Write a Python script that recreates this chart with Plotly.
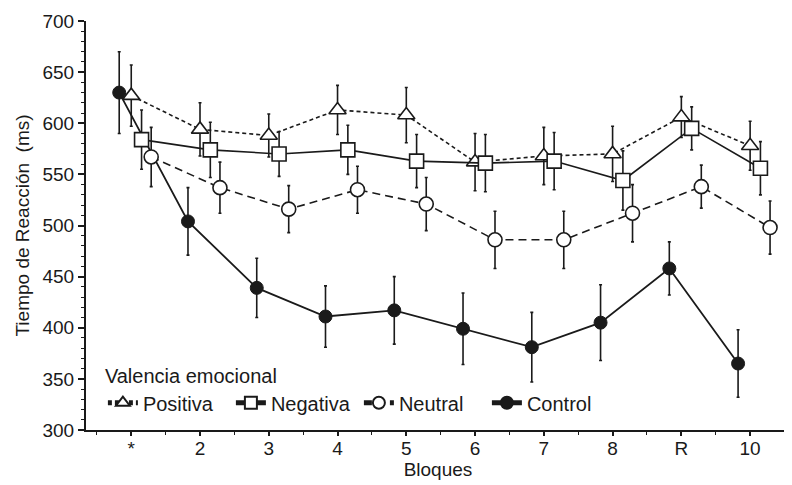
import plotly.graph_objects as go

# ---- data ----
bloques = [1, 2, 3, 4, 5, 6, 7, 8, 9, 10]
bloque_labels = ["*", "2", "3", "4", "5", "6", "7", "8", "R", "10"]

positiva = [627, 594, 588, 613, 608, 562, 568, 570, 606, 578]
positiva_err = [30, 26, 21, 24, 27, 28, 28, 27, 20, 24]

negativa = [584, 574, 570, 574, 563, 561, 563, 544, 595, 556]
negativa_err = [29, 27, 22, 24, 26, 28, 28, 29, 21, 26]

neutral = [567, 537, 516, 535, 521, 486, 486, 512, 538, 498]
neutral_err = [29, 25, 23, 23, 26, 28, 28, 28, 21, 26]

control = [630, 504, 439, 411, 417, 399, 381, 405, 458, 365]
control_err = [40, 33, 29, 30, 33, 35, 34, 37, 26, 33]

y_ticks = [300, 350, 400, 450, 500, 550, 600, 650, 700]

# horizontal jitter of each series (layout, not data)
OFF_CONTROL, OFF_POS, OFF_NEG, OFF_NEU = -0.175, 0.0, 0.15, 0.29

INK = "#1a1a1a"
FONT = "Liberation Sans, Arial, sans-serif"


def shifted(off):
    return [b + off for b in bloques]


def err(arr):
    return dict(type="data", array=arr, visible=True, color=INK, thickness=1.6, width=1.5)


fig = go.Figure()

fig.add_trace(go.Scatter(
    x=shifted(OFF_CONTROL), y=control, name="Control", mode="lines+markers",
    line=dict(color=INK, width=1.8),
    marker=dict(symbol="circle", size=13, color=INK, line=dict(color=INK, width=1)),
    error_y=err(control_err), legendrank=4,
))
fig.add_trace(go.Scatter(
    x=shifted(OFF_NEU), y=neutral, name="Neutral", mode="lines+markers",
    line=dict(color=INK, width=1.6, dash="8px,5px"),
    marker=dict(symbol="circle", size=14, color="white", line=dict(color=INK, width=1.6)),
    error_y=err(neutral_err), legendrank=3,
))
fig.add_trace(go.Scatter(
    x=shifted(OFF_POS), y=positiva, name="Positiva", mode="lines+markers",
    line=dict(color=INK, width=1.6, dash="4px,3px"),
    marker=dict(symbol="triangle-up", size=15, color="white", line=dict(color=INK, width=1.6)),
    error_y=err(positiva_err), legendrank=1,
))
fig.add_trace(go.Scatter(
    x=shifted(OFF_NEG), y=negativa, name="Negativa", mode="lines+markers",
    line=dict(color=INK, width=1.6),
    marker=dict(symbol="square", size=14, color="white", line=dict(color=INK, width=1.6)),
    error_y=err(negativa_err), legendrank=2,
))

# the page body adds an 8px offset, compensated in the margins
fig.update_layout(
    width=792, height=485,
    margin=dict(l=78, r=10, t=13, b=63),
    paper_bgcolor="white", plot_bgcolor="white",
    font=dict(family=FONT, color=INK, size=19),
    showlegend=True,
    legend=dict(
        orientation="h",
        traceorder="normal",
        x=0.024, xanchor="left", y=0.178, yanchor="top",
        bgcolor="rgba(0,0,0,0)",
        font=dict(family=FONT, size=20, color=INK),
        title=dict(text="Valencia emocional", side="top", font=dict(family=FONT, size=20, color=INK)),
        itemsizing="constant",
        entrywidth=83,
    ),
)

fig.update_xaxes(
    range=[0.342, 10.58],
    tickmode="array", tickvals=bloques, ticktext=bloque_labels,
    showline=True, linecolor=INK, linewidth=2,
    ticks="outside", ticklen=4, tickwidth=1.5, tickcolor=INK,
    ticklabelstandoff=-4,
    minor=dict(tickmode="array", tickvals=[b - 0.5 for b in bloques] + [10.5],
               ticks="outside", ticklen=3, tickwidth=1.2, tickcolor=INK),
    showgrid=False, zeroline=False,
    tickfont=dict(size=19),
    title=dict(text="Bloques", font=dict(size=19), standoff=0),
    automargin=False,
)
fig.update_yaxes(
    range=[300, 700],
    tickmode="array", tickvals=y_ticks,
    showline=True, linecolor=INK, linewidth=2,
    ticks="outside", ticklen=6, tickwidth=1.5, tickcolor=INK,
    minor=dict(dtick=10, ticks="outside", ticklen=3, tickwidth=1.2, tickcolor=INK),
    showgrid=False, zeroline=False,
    tickfont=dict(size=19),
    title=dict(text="Tiempo de Reacción  (ms)", font=dict(size=19), standoff=8),
    automargin=False,
)

fig.write_html("out.html")
